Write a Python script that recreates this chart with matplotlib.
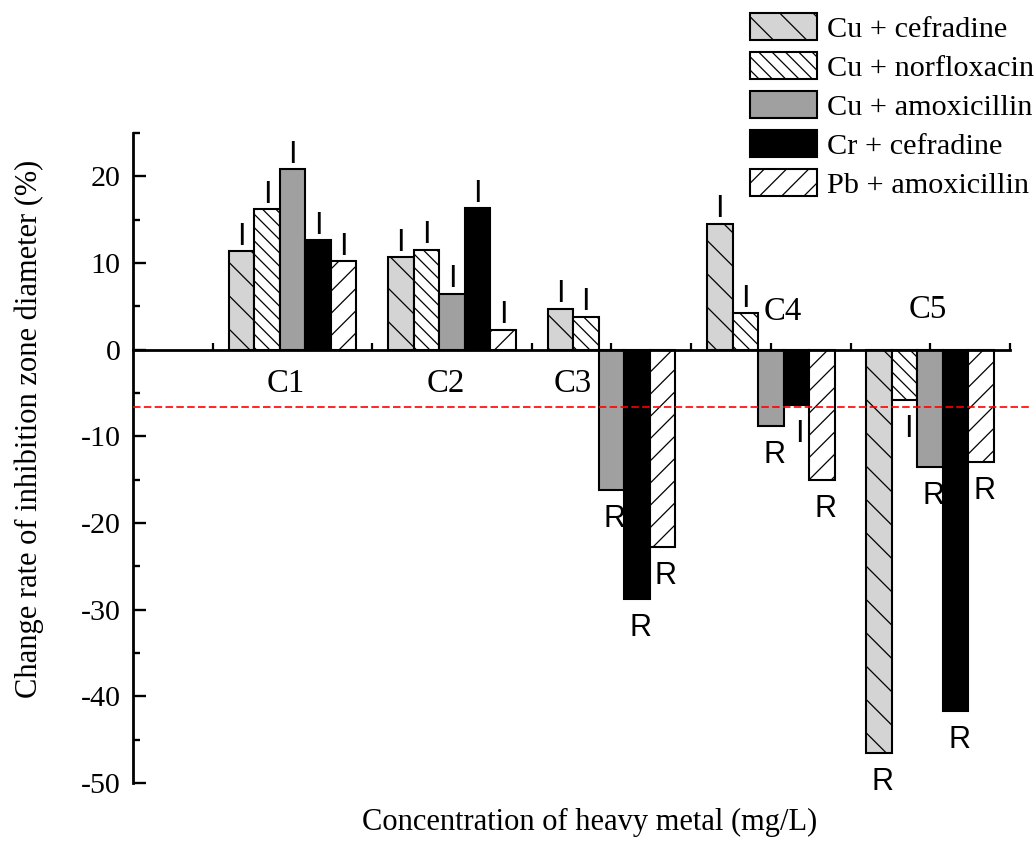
import numpy as np
import matplotlib
matplotlib.use("Agg")
import matplotlib.pyplot as plt
from matplotlib.ticker import FixedLocator, MultipleLocator

# ---------------- data ----------------
categories = ["C1", "C2", "C3", "C4", "C5"]
series_names = ["Cu + cefradine", "Cu + norfloxacin", "Cu + amoxicillin",
                "Cr + cefradine", "Pb + amoxicillin"]
cu_cefradine = [11.35, 10.65, 4.7, 14.5, -46.5]
cu_norfloxacin = [16.2, 11.5, 3.8, 4.2, -5.8]
cu_amoxicillin = [20.8, 6.4, -16.2, -8.8, -13.5]
cr_cefradine = [12.6, 16.3, -28.8, -6.35, -41.7]
pb_amoxicillin = [10.2, 2.3, -22.8, -15.1, -13.0]
# susceptibility labels (I = intermediate, R = resistant)
lab_cu_cefradine = ["I", "I", "I", "I", "R"]
lab_cu_norfloxacin = ["I", "I", "I", "I", "I"]
lab_cu_amoxicillin = ["I", "I", "R", "R", "R"]
lab_cr_cefradine = ["I", "I", "R", "I", "R"]
lab_pb_amoxicillin = ["I", "I", "R", "R", "R"]
threshold = -6.66
yticks = [-50, -40, -30, -20, -10, 0, 10, 20]

series = [cu_cefradine, cu_norfloxacin, cu_amoxicillin, cr_cefradine, pb_amoxicillin]
labels = [lab_cu_cefradine, lab_cu_norfloxacin, lab_cu_amoxicillin,
          lab_cr_cefradine, lab_pb_amoxicillin]

# ---------------- styles ----------------
plt.rcParams["font.family"] = ["Liberation Serif", "DejaVu Serif"]
plt.rcParams["axes.unicode_minus"] = False
plt.rcParams["hatch.linewidth"] = 0.45
plt.rcParams["hatch.color"] = "black"

faces = ["#d4d4d4", "white", "#a0a0a0", "black", "white"]
hatches = ["\\\\", "\\\\\\\\\\", None, None, "///"]

fig = plt.figure(figsize=(5.175, 4.215), dpi=200)
ax = fig.add_axes([0.1285, 0.0712, 0.8473, 0.7711])

x = np.arange(1, len(categories) + 1)
width = 0.16
bars = []
for i, (vals, fc, h, name) in enumerate(zip(series, faces, hatches, series_names)):
    b = ax.bar(x + (i - 2) * width, vals, width, color=fc, edgecolor="black",
               linewidth=0.75, hatch=h, label=name, zorder=2)
    bars.append(b)

# I / R annotations
for i, (vals, labs) in enumerate(zip(series, labels)):
    for xi, v, lab in zip(x, vals, labs):
        xp = xi + (i - 2) * width
        if v >= 0:
            ax.annotate(lab, (xp, v), xytext=(0, 2.4), textcoords="offset points",
                        ha="center", va="baseline", fontsize=11,
                        family=["Liberation Sans"])
        else:
            ax.annotate(lab, (xp, v), xytext=(1.2, -5.0), textcoords="offset points",
                        ha="center", va="top", fontsize=11,
                        family=["Liberation Sans"])

# threshold line
ax.plot([0, 5.64], [threshold, threshold], color="#ff0000", lw=0.6,
        dashes=(4.5, 2.0), clip_on=False, zorder=3)

# category labels placed like the original
cat_pos = [(0.96, -4.85), (1.963, -4.85), (2.76, -4.85), (4.077, 3.46), (4.986, 3.69)]
for c, (px, py) in zip(categories, cat_pos):
    ax.text(px, py, c, ha="center", va="baseline", fontsize=11.8)

ax.set_xlim(0, 5.5)
ax.set_ylim(-50, 25)
ax.spines["top"].set_visible(False)
ax.spines["right"].set_visible(False)
ax.spines["bottom"].set_position(("data", 0))
ax.spines["left"].set_linewidth(1.0)
ax.spines["bottom"].set_linewidth(1.0)
ax.spines["bottom"].set_zorder(4)

ax.yaxis.set_major_locator(FixedLocator(yticks))
ax.yaxis.set_minor_locator(MultipleLocator(5))
ax.tick_params(axis="y", which="major", direction="in", length=4.7, width=0.85,
               labelsize=10.8, pad=4.5)
ax.tick_params(axis="y", which="minor", direction="in", length=2.5, width=0.85)
ax.xaxis.set_major_locator(FixedLocator(np.arange(0.5, 5.51, 0.5)))
ax.tick_params(axis="x", which="major", direction="in", length=2.5, width=0.8,
               labelbottom=False)

ax.set_ylabel("Change rate of inhibition zone diameter (%)", fontsize=11, va="center")
ax.yaxis.set_label_coords(-0.118, 0.545)
ax.set_xlabel("Concentration of heavy metal (mg/L)", fontsize=11, va="center")
ax.xaxis.set_label_coords(0.521, -0.06)

ax.legend(handles=bars, loc="upper left", bbox_to_anchor=(0.7246, 0.985),
          bbox_transform=fig.transFigure, frameon=False, fontsize=10.9,
          handlelength=2.23, handleheight=1.0, handletextpad=0.3,
          labelspacing=0.3, borderpad=0, borderaxespad=0)

fig.savefig("out.png", dpi=200)
